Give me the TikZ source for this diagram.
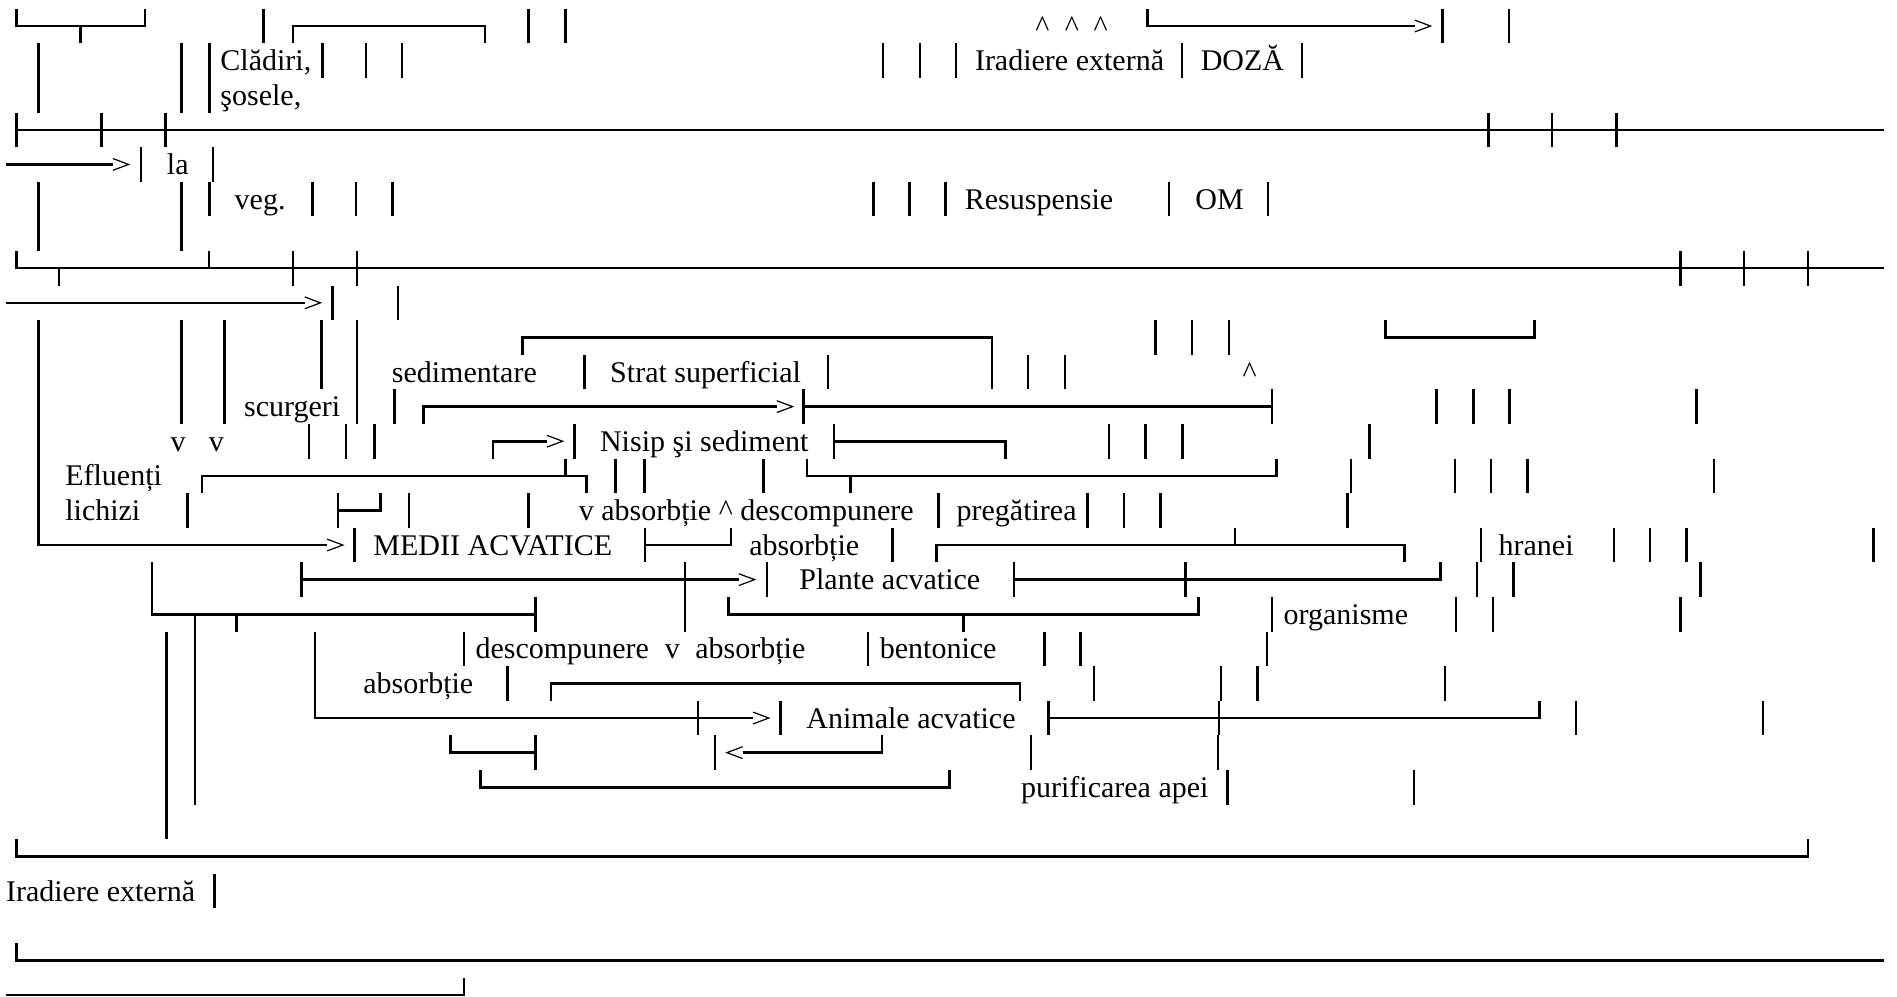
\documentclass[tikz,border=0pt]{standalone}
\usepackage{fontspec}
\setmainfont{Liberation Serif}
\tikzset{
  ln/.style={line width=1.05pt},
  chev/.style={line width=0.5pt},
  lbl/.style={anchor=base west, inner sep=0pt, outer sep=0pt,
              font=\fontsize{12.4pt}{14pt}\selectfont},
}
% one-row bar, multi-row bar, right and left chevrons
\newcommand\vbr[2]{\draw[ln] (#1,#2-0.5) -- (#1,#2+0.5);}
\newcommand\vrn[3]{\draw[ln] (#1,#2-0.5) -- (#1,#3+0.5);}
\newcommand\chevR[2]{\draw[chev] (#1-13,#2-0.17) -- (#1,#2) -- (#1-13,#2+0.17);}
\newcommand\chevL[2]{\draw[chev] (#1+13,#2-0.17) -- (#1,#2) -- (#1+13,#2+0.17);}
\begin{document}
\begin{tikzpicture}[x=0.5pt,y=-14.3pt]
\fill[white] (0,-0.752) rectangle (1568,28.06);
\useasboundingbox (0,-0.752) rectangle (1568,28.06);

% ---- row 0
\draw[ln] (13.5,-0.5) -- (13.5,0) -- (119.8,0) -- (119.8,-0.5);
\draw[ln] (66.5,0) -- (66.5,0.5);
\vbr{217.6}{0}
\draw[ln] (242,0.5) -- (242,0) -- (400.8,0) -- (400.8,0.5);
\vbr{437}{0} \vbr{467.3}{0}
\node[lbl] (c1) at (855.8,0.29) {\textasciicircum};
\node[lbl] (c2) at (880.1,0.29) {\textasciicircum};
\node[lbl] (c3) at (904.0,0.29) {\textasciicircum};
\draw[ln] (948.6,-0.5) -- (948.6,0) -- (1169.4,0); \chevR{1182.4}{0}
\vbr{1192.5}{0} \vbr{1247.2}{0}

% ---- rows 1-2
\vrn{32}{1}{2} \vrn{150.1}{1}{2} \vrn{173.1}{1}{2}
\node[lbl] (cladiri) at (182.2,1.29) {Clădiri,};
\node[lbl] (sosele) at (182.2,2.29) {şosele,};
\foreach \x in {266.5,302.6,332.3,730,760.4,790} {\vbr{\x}{1}}
\node[lbl] (irad1) at (805.9,1.29) {Iradiere externă};
\vbr{977}{1}
\node[lbl] (doza) at (992.5,1.29) {DOZĂ};
\vbr{1076.1}{1}

% ---- row 3
\vbr{13.5}{3}
\draw[ln] (13.5,3) -- (1557,3);
\foreach \x in {83.7,136.6,1230.3,1283,1336} {\vbr{\x}{3}}

% ---- row 4
\draw[ln] (5,4) -- (93.3,4); \chevR{106.3}{4}
\vbr{116.4}{4}
\node[lbl] (la) at (138,4.29) {la};
\vbr{176.1}{4}

% ---- rows 5-6
\vrn{32}{5}{6} \vrn{150.1}{5}{6} \vbr{173.1}{5}
\node[lbl] (veg) at (194,5.29) {veg.};
\foreach \x in {258.1,294.2,324.6,722.2,751.9,781.6} {\vbr{\x}{5}}
\node[lbl] (resusp) at (797.5,5.29) {Resuspensie};
\vbr{966.2}{5}
\node[lbl] (om) at (988.1,5.29) {OM};
\vbr{1048}{5}

% ---- row 7
\draw[ln] (13.5,6.5) -- (13.5,7) -- (1557,7);
\draw[ln] (48.9,7) -- (48.9,7.5);
\draw[ln] (172.7,6.5) -- (172.7,7);
\foreach \x in {242.2,295.2,1388.9,1441.5,1494.5} {\vbr{\x}{7}}

% ---- row 8
\draw[ln] (5,8) -- (251.9,8); \chevR{264.9}{8}
\vbr{275}{8} \vbr{329}{8}

% ---- rows 9-10
\draw[ln] (32,8.5) -- (32,15) -- (270.4,15); \chevR{283.4}{15}
\vrn{150.1}{9}{11} \vrn{185.6}{9}{11} \vrn{265.9}{9}{10} \vrn{295.2}{9}{11}
\draw[ln] (431.9,9.5) -- (431.9,9) -- (820,9) -- (820,10.5);
\foreach \x in {955,985.4,1015.8} {\vbr{\x}{9}}
\draw[ln] (1145.3,8.5) -- (1145.3,9) -- (1268.4,9) -- (1268.4,8.5);
\node[lbl] (sedim) at (323.9,10.29) {sedimentare};
\vbr{483.2}{10}
\node[lbl] (strat) at (504.4,10.29) {Strat superficial};
\foreach \x in {684.4,849.8,880.1} {\vbr{\x}{10}}
\node[lbl] (c4) at (1027,10.29) {\textasciicircum};

% ---- row 11
\node[lbl] (scurg) at (201.8,11.29) {scurgeri};
\vbr{326.3}{11}
\draw[ln] (349.9,11.5) -- (349.9,11) -- (642.1,11); \chevR{655.1}{11}
\vbr{664.2}{11}
\draw[ln] (664.2,11) -- (1051.5,11);
\vbr{1051.5}{11}
\foreach \x in {1187.5,1217.8,1247.5,1402.4} {\vbr{\x}{11}}

% ---- row 12
\node[lbl] (v1) at (141,12.29) {v};
\node[lbl] (v2) at (172.7,12.29) {v};
\foreach \x in {255.4,285.8,309.4} {\vbr{\x}{12}}
\draw[ln] (407.6,12.5) -- (407.6,12) -- (452,12); \chevR{465}{12}
\vbr{475}{12}
\node[lbl] (nisip) at (496,12.29) {Nisip şi sediment};
\vbr{689.5}{12}
\draw[ln] (689.5,12) -- (831.2,12) -- (831.2,12.5);
\foreach \x in {916.6,946.9,977.3,1131.8} {\vbr{\x}{12}}

% ---- row 13
\node[lbl] (efl) at (54,13.29) {Efluenți};
\draw[ln] (167,13.5) -- (167,13) -- (484.8,13) -- (484.8,13.5);
\draw[ln] (467.3,12.5) -- (467.3,13);
\foreach \x in {508.8,532.6,631.1} {\vbr{\x}{13}}
\draw[ln] (666.9,12.5) -- (666.9,13) -- (1055.2,13) -- (1055.2,12.5);
\draw[ln] (703,13) -- (703,13.5);
\foreach \x in {1116.6,1202.6,1232.3,1262.4,1416.9} {\vbr{\x}{13}}

% ---- row 14
\node[lbl] (lich) at (54,14.29) {lichizi};
\vbr{155.2}{14}
\vbr{279.4}{14}
\draw[ln] (279.4,14) -- (314.5,14) -- (314.5,13.5);
\vbr{338.1}{14} \vbr{436.9}{14}
\node[lbl] (vabs) at (478.4,14.29) {v absorbție \textasciicircum{} descompunere};
\vbr{775.5}{14}
\node[lbl] (preg) at (790.7,14.29) {pregătirea};
\foreach \x in {898.7,929,959.4,1113.9} {\vbr{\x}{14}}

% ---- row 15
\vbr{292.9}{15}
\node[lbl] (medii) at (308.7,15.29) {MEDII ACVATICE};
\vbr{533.3}{15}
\draw[ln] (533.3,15) -- (604.1,15) -- (604.1,14.5);
\node[lbl] (abs1) at (619.3,15.29) {absorbție};
\vbr{737.8}{15}
\draw[ln] (773.9,15.5) -- (773.9,15) -- (1161.1,15) -- (1161.1,15.5);
\draw[ln] (1020.8,14.5) -- (1020.8,15);
\vbr{1224.3}{15}
\node[lbl] (hranei) at (1238.7,15.29) {hranei};
\foreach \x in {1334.2,1363.9,1393.9,1548.5} {\vbr{\x}{15}}

% ---- row 16
\draw[ln] (125.8,15.5) -- (125.8,17) -- (442.7,17);
\vbr{442.7}{17}
\vbr{249}{16}
\draw[ln] (249,16) -- (610.7,16); \chevR{623.7}{16}
\vrn{566.3}{16}{17}
\vbr{633.8}{16}
\node[lbl] (plante) at (660.8,16.29) {Plante acvatice};
\vbr{838}{16}
\draw[ln] (838,16) -- (1190.6,16) -- (1190.6,15.5);
\foreach \x in {979.7,1221,1250.8,1405.7} {\vbr{\x}{16}}

% ---- row 17
\draw[ln] (161.3,17) -- (161.3,22.5);
\draw[ln] (195.7,17) -- (195.7,17.5);
\draw[ln] (602.3,16.5) -- (602.3,17) -- (990.8,17) -- (990.8,16.5);
\draw[ln] (796.5,17) -- (796.5,17.5);
\vbr{1051.5}{17}
\node[lbl] (organ) at (1061,17.29) {organisme};
\foreach \x in {1203.6,1234,1388.9} {\vbr{\x}{17}}

% ---- row 18
\vrn{137.7}{18}{23}
\draw[ln] (260.5,17.5) -- (260.5,20) -- (622.5,20); \chevR{635.5}{20}
\vbr{383.6}{18}
\node[lbl] (desc2) at (393.1,18.29) {descompunere};
\node[lbl] (v3) at (549.5,18.29) {v};
\node[lbl] (abs2) at (574.8,18.29) {absorbție};
\vbr{717.5}{18}
\node[lbl] (bent) at (727.3,18.29) {bentonice};
\foreach \x in {863.3,893,1047.4} {\vbr{\x}{18}}

% ---- row 19
\node[lbl] (abs3) at (300.3,19.29) {absorbție};
\vbr{419.4}{19}
\draw[ln] (455.5,19.5) -- (455.5,19) -- (843,19) -- (843,19.5);
\foreach \x in {904.4,1009.4,1039.4,1194.2} {\vbr{\x}{19}}

% ---- row 20
\vbr{577.1}{20} \vbr{645}{20}
\node[lbl] (anim) at (666.6,20.29) {Animale acvatice};
\vbr{866.6}{20}
\draw[ln] (866.6,20) -- (1272.5,20) -- (1272.5,19.5);
\foreach \x in {1007.7,1302.8,1457.4} {\vbr{\x}{20}}

% ---- row 21
\draw[ln] (372.2,20.5) -- (372.2,21) -- (442.7,21);
\vbr{442.7}{21}
\vbr{591}{21}
\chevL{600.8}{21}
\draw[ln] (613.8,21) -- (729,21) -- (729,20.5);
\vbr{852.1}{21} \vbr{1006.7}{21}

% ---- row 22
\draw[ln] (397.1,21.5) -- (397.1,22) -- (785,22) -- (785,21.5);
\node[lbl] (purif) at (844,22.29) {purificarea apei};
\vbr{1014.4}{22} \vbr{1168.9}{22}

% ---- rows 24-28
\draw[ln] (13.5,23.5) -- (13.5,24) -- (1494.5,24) -- (1494.5,23.5);
\node[lbl] (irad2) at (5,25.29) {Iradiere externă};
\vbr{177.1}{25}
\draw[ln] (13.5,26.5) -- (13.5,27) -- (1557,27);
\draw[ln] (5,28) -- (383.6,28) -- (383.6,27.5);
\end{tikzpicture}
\end{document}
